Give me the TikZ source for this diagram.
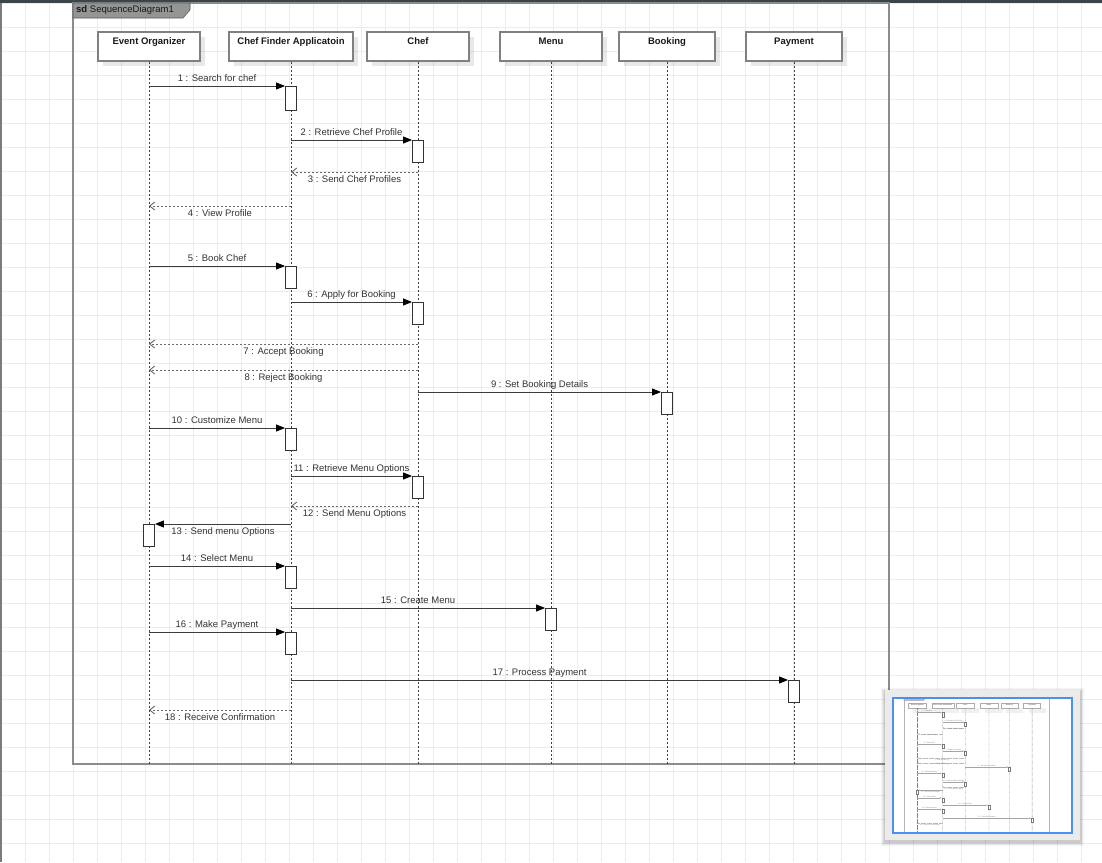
\documentclass[tikz,border=0pt]{standalone}
\usepackage{fontspec}
\setmainfont{Liberation Sans}
\usetikzlibrary{arrows.meta,shadows}

\definecolor{gridc}{HTML}{ECECEC}
\definecolor{framec}{HTML}{8C8C8C}
\definecolor{topbar}{HTML}{3B4448}
\definecolor{tabc}{HTML}{959595}
\definecolor{msgc}{HTML}{3C3C3C}
\definecolor{retc}{HTML}{6A6A6A}
\definecolor{headc}{HTML}{808080}
\definecolor{navpanel}{HTML}{EBEBEB}
\definecolor{navblue}{HTML}{4A90F0}

\tikzset{
  x=1pt, y=-1pt,
  framel/.style={draw=framec, line width=1.6pt},
  tabshape/.style={fill=tabc, draw=black!65, line width=0.6pt},
  tabtext/.style={anchor=west, inner sep=0pt, font=\fontsize{9.5}{11}\selectfont, text=black!90},
  head/.style={draw=headc, line width=1.4pt, fill=white, minimum width=#1, inner xsep=0pt,
    inner ysep=3pt, text height=9.3pt, text depth=13.7pt,
    font=\fontsize{9.5}{11}\selectfont\bfseries, text=black!90,
    drop shadow={shadow xshift=5pt, shadow yshift=-5pt, fill=black, opacity=0.09}},
  life/.style={draw=black!75, line width=0.8pt, dash pattern=on 2pt off 2pt},
  act/.style={draw=black!80, fill=white, line width=0.9pt, minimum width=11pt,
    minimum height=22pt, inner sep=0pt, anchor=north},
  msg/.style={draw=msgc, line width=0.9pt, -{Triangle[length=9pt,width=7pt,color=black]}},
  ret/.style={draw=retc, line width=0.9pt, dash pattern=on 2pt off 2pt,
    -{Straight Barb[length=5pt,width=8pt]}},
  lbl/.style={font=\fontsize{9.5}{11}\selectfont, text=black!80, inner sep=1.5pt,
    text height=7pt, text depth=2.5pt},
  % thinner strokes for the overview copy
  overview/.style={
    framel/.append style={line width=0.5pt},
    tabshape/.append style={line width=0.2pt},
    head/.append style={line width=0.4pt},
    life/.append style={line width=0.3pt, dash pattern=on 0.6pt off 0.6pt},
    act/.append style={line width=0.3pt},
    msg/.style={draw=msgc!70, line width=0.35pt, -{Triangle[length=1.6pt,width=1.3pt]}},
    ret/.style={draw=retc!70, line width=0.35pt, dash pattern=on 0.6pt off 0.6pt,
      -{Straight Barb[length=1pt,width=1.5pt]}},
  },
}

% The sequence diagram itself; #1 prefixes every node name
\newcommand\seqbody[1]{%
  % frame and its tab
  \draw[framel] (73,3) rectangle (889,764);
  \filldraw[tabshape] (73,3) -- (190,3) -- (190,10) -- (183,18) -- (73,18) -- cycle;
  \node[tabtext] (#1sd) at (76,10.5) {\textbf{sd} SequenceDiagram1};
  % lifeline heads
  \node[head=102pt] (#1eo)   at (149,46.5) {Event Organizer};
  \node[head=124pt] (#1cfa)  at (291,46.5) {Chef Finder Applicatoin};
  \node[head=102pt] (#1chef) at (418,46.5) {Chef};
  \node[head=102pt] (#1menu) at (551,46.5) {Menu};
  \node[head=96pt]  (#1book) at (667,46.5) {Booking};
  \node[head=96pt]  (#1pay)  at (794,46.5) {Payment};
  \coordinate (#1bot) at (0,764);
  \foreach \h in {eo,cfa,chef,menu,book,pay}{\draw[life] (#1\h) -- (#1\h |- #1bot);}
  % activation bars
  \node[act, minimum height=24pt] (#1a1) at (291,86) {};
  \node[act] (#1a2)  at (418,140) {};
  \node[act] (#1a5)  at (291,266) {};
  \node[act] (#1a6)  at (418,302) {};
  \node[act] (#1a9)  at (667,392) {};
  \node[act] (#1a10) at (291,428) {};
  \node[act] (#1a11) at (418,476) {};
  \node[act] (#1a13) at (149,524) {};
  \node[act] (#1a14) at (291,566) {};
  \node[act] (#1a15) at (551,608) {};
  \node[act] (#1a16) at (291,632) {};
  \node[act] (#1a17) at (794,680) {};
  % heights of the return messages
  \coordinate (#1r3)  at (0,172);
  \coordinate (#1r4)  at (0,206);
  \coordinate (#1r7)  at (0,344);
  \coordinate (#1r8)  at (0,370);
  \coordinate (#1r12) at (0,506);
  \coordinate (#1r18) at (0,710);
  % messages
  \draw[msg] (#1eo |- #1a1.north) -- (#1a1.north west)
    node[lbl, midway, above] {1 : Search for chef};
  \draw[msg] (#1cfa |- #1a2.north) -- (#1a2.north west)
    node[lbl, midway, above] {2 : Retrieve Chef Profile};
  \draw[ret] (#1chef |- #1r3) -- (#1cfa |- #1r3)
    node[lbl, midway, below=2pt] {3 : Send Chef Profiles};
  \draw[ret] (#1cfa |- #1r4) -- (#1eo |- #1r4)
    node[lbl, midway, below=2pt] {4 : View Profile};
  \draw[msg] (#1eo |- #1a5.north) -- (#1a5.north west)
    node[lbl, midway, above] {5 : Book Chef};
  \draw[msg] (#1cfa |- #1a6.north) -- (#1a6.north west)
    node[lbl, midway, above] {6 : Apply for Booking};
  \draw[ret] (#1chef |- #1r7) -- (#1eo |- #1r7)
    node[lbl, midway, below=2pt] {7 : Accept Booking};
  \draw[ret] (#1chef |- #1r8) -- (#1eo |- #1r8)
    node[lbl, midway, below=2pt] {8 : Reject Booking};
  \draw[msg] (#1chef |- #1a9.north) -- (#1a9.north west)
    node[lbl, midway, above] {9 : Set Booking Details};
  \draw[msg] (#1eo |- #1a10.north) -- (#1a10.north west)
    node[lbl, midway, above] {10 : Customize Menu};
  \draw[msg] (#1cfa |- #1a11.north) -- (#1a11.north west)
    node[lbl, midway, above] {11 : Retrieve Menu Options};
  \draw[ret] (#1chef |- #1r12) -- (#1cfa |- #1r12)
    node[lbl, midway, below=2pt] {12 : Send Menu Options};
  \draw[msg] (#1cfa |- #1a13.north) -- (#1a13.north east)
    node[lbl, midway, below=2pt] {13 : Send menu Options};
  \draw[msg] (#1eo |- #1a14.north) -- (#1a14.north west)
    node[lbl, midway, above] {14 : Select Menu};
  \draw[msg] (#1cfa |- #1a15.north) -- (#1a15.north west)
    node[lbl, midway, above] {15 : Create Menu};
  \draw[msg] (#1eo |- #1a16.north) -- (#1a16.north west)
    node[lbl, midway, above] {16 : Make Payment};
  \draw[msg] (#1cfa |- #1a17.north) -- (#1a17.north west)
    node[lbl, midway, above] {17 : Process Payment};
  \draw[ret] (#1cfa |- #1r18) -- (#1eo |- #1r18)
    node[lbl, midway, below=2pt] {18 : Receive Confirmation};
}

\begin{document}
\begin{tikzpicture}
  \useasboundingbox (0,0) rectangle (1102,862);
  \fill[white] (0,0) rectangle (1102,862);
  % background grid
  \foreach \gx in {1,25,...,1081} \draw[gridc, line width=1pt] (\gx,0) -- (\gx,862);
  \foreach \gy in {3,27,...,843} \draw[gridc, line width=1pt] (0,\gy) -- (1102,\gy);
  % window edges
  \fill[topbar] (0,0) rectangle (1102,3);
  \fill[topbar!70] (0,3) rectangle (1.5,862);

  \seqbody{M}

  % overview panel
  \foreach \s/\o in {4/0.04,3/0.05,2/0.06,1/0.07}
    \fill[black, opacity=\o] (885-\s,690-\s+2) rectangle (1080+\s,840+\s+2);
  \fill[navpanel] (885,690) rectangle (1080,840);
  \fill[white] (893,698) rectangle (1072,833);
  \begin{scope}
    \clip (893,698) rectangle (1072,833);
    \begin{scope}[shift={(891,697.3)}, scale=0.1777, transform shape, overview]
      \seqbody{N}
    \end{scope}
    \fill[white, opacity=0.35] (893,698) rectangle (1072,833);
  \end{scope}
  \draw[navblue, line width=2pt] (893,698) rectangle (1072,833);
\end{tikzpicture}
\end{document}
